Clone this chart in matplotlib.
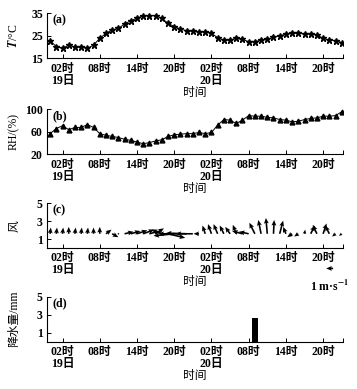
import numpy as np
import matplotlib
matplotlib.use("Agg")
import matplotlib.pyplot as plt

plt.rcParams["font.family"] = ["Liberation Serif", "Noto Sans CJK SC"]
plt.rcParams["font.weight"] = "bold"
plt.rcParams["font.size"] = 8.5
plt.rcParams["mathtext.fontset"] = "stix"

# hourly data, 19日 00时 .. 20日 23时
hours = list(range(48))

temp = [22.9, 20.2, 19.4, 20.9, 20.0, 20.0, 19.4, 20.9, 23.9, 26.1,
        27.6, 28.3, 30.3, 31.7, 32.8, 34.0, 34.0, 34.0, 32.8, 30.6,
        29.1, 28.0, 27.3, 27.1, 26.6, 26.9, 26.1, 24.2, 23.1, 23.1,
        23.9, 23.4, 22.4, 22.4, 23.1, 23.4, 24.3, 25.1, 25.7, 26.1,
        26.1, 25.8, 25.8, 25.4, 23.9, 23.1, 22.9, 22.0]

rh = [57, 66, 71, 64, 68, 68, 73, 68, 57, 54,
      52, 50, 47, 45, 42, 39, 41, 44, 46, 52,
      55, 56, 57, 57, 59, 57, 59, 72, 82, 81,
      75, 81, 89, 88, 88, 86, 85, 82, 81, 78,
      79, 82, 84, 85, 88, 88, 89, 96]

# wind components (m/s)
wind_u = [0.1, 0.1, 0.1, 0.0, 0.1, 0.1, 0.1, 0.0, 0.0, 0.8,
          0.9, 0.2, 1.3, 1.4, 1.5, 1.6, 1.5, 1.2, -1.5, 2.5,
          -3.0, -3.2, -3.0, -2.5, -0.8, -0.4, -0.5, -0.6, -0.6, -0.7,
          -0.5, -1.5, -1.4, -0.8, -0.4, -0.2, 0.1, 0.5, -0.4, -0.7,
          -0.6, 0.1, 0.6, -0.6, 0.5, -0.6, -0.5, -0.4]
wind_v = [0.9, 0.9, 0.9, 1.0, 0.9, 0.9, 0.9, 0.9, 1.0, 0.6,
          -0.5, 0.0, 0.3, 0.4, 0.5, 0.6, 0.4, 0.8, 0.6, -0.6,
          -0.3, 0.0, 0.1, 0.0, 0.0, 1.2, 1.4, 1.4, 1.2, 1.0,
          1.3, 0.4, 0.3, 1.6, 2.0, 2.3, 2.0, 1.9, 1.0, -0.5,
          -0.4, 0.6, 1.2, 1.3, 1.5, 1.2, -0.4, -0.3]

rain = [0, 0, 0, 0, 0, 0, 0, 0, 0, 0,
        0, 0, 0, 0, 0, 0, 0, 0, 0, 0,
        0, 0, 0, 0, 0, 0, 0, 0, 0, 0,
        0, 0, 0, 2.6, 0, 0, 0, 0, 0, 0,
        0, 0, 0, 0, 0, 0, 0, 0]

tick_pos = [2, 8, 14, 20, 26, 32, 38, 44]
tick_lab = ["02时\n19日", "08时", "14时", "20时", "02时\n20日", "08时", "14时", "20时"]

fig = plt.figure(figsize=(3.57, 3.89), dpi=100)
bottoms = [0.850, 0.603, 0.362, 0.1216]
axes = [fig.add_axes([0.1317, b, 0.829, 0.1157]) for b in bottoms]

for ax, lab in zip(axes, ["(a)", "(b)", "(c)", "(d)"]):
    ax.set_xlim(-0.5, 47.2)
    ax.set_xticks(tick_pos)
    ax.set_xticklabels(tick_lab, linespacing=1.0)
    ax.set_xticks([47.2], minor=True)
    ax.tick_params(which="both", direction="in", length=3, width=0.7, pad=3)
    ax.spines["top"].set_visible(False)
    ax.spines["right"].set_visible(False)
    ax.set_xlabel("时间", labelpad=0)
    ax.text(0.02, 0.98, lab, transform=ax.transAxes, va="top", ha="left",
            fontweight="bold")
    ax.yaxis.set_label_coords(-0.09, 0.5)

ax = axes[0]
ax.plot(hours, temp, color="black", lw=0.7, marker="*", ms=4.5)
ax.set_ylim(15, 35)
ax.set_yticks([15, 25, 35])
ax.set_ylabel("$\\mathit{T}$/°C")

ax = axes[1]
ax.plot(hours, rh, color="black", lw=0.7, marker="^", ms=3.5)
ax.set_ylim(20, 100)
ax.set_yticks([20, 60, 100])
ax.set_ylabel("RH/(%)")

ax = axes[2]
q = ax.quiver(hours, [1.6] * len(hours), wind_u, wind_v, pivot="tail",
              angles="uv", scale_units="x", scale=0.9, width=0.0055,
              headwidth=3, headlength=3.5, headaxislength=3, color="black")
ax.quiverkey(q, 0.955, -0.45, 1, "1 m·s$^{-1}$", angle=180, labelpos="S",
             coordinates="axes", fontproperties={"weight": "bold", "size": 8.5})
ax.set_ylim(0, 5)
ax.set_yticks([1, 3, 5])
ax.set_ylabel("风")

ax = axes[3]
ax.bar(hours, rain, width=0.9, color="black")
ax.set_ylim(0, 5)
ax.set_yticks([1, 3, 5])
ax.set_ylabel("降水量/mm")

fig.savefig("out.png", dpi=100)
